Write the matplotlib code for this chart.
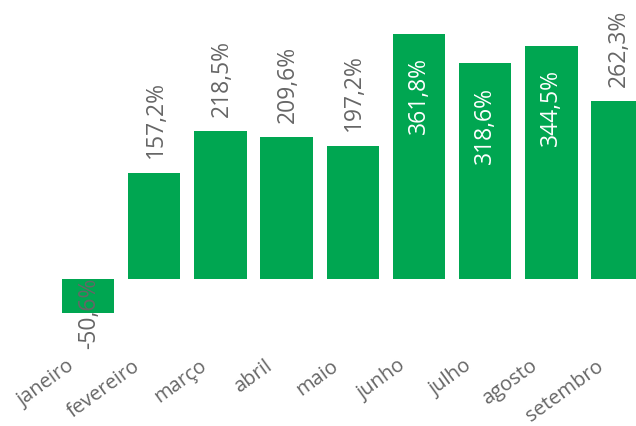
import matplotlib
matplotlib.use("Agg")
import matplotlib.pyplot as plt
from matplotlib.transforms import ScaledTranslation

meses = ["janeiro", "fevereiro", "março", "abril", "maio",
         "junho", "julho", "agosto", "setembro"]
valores = [-50.6, 157.2, 218.5, 209.6, 197.2, 361.8, 318.6, 344.5, 262.3]
rotulos = ["-50,6%", "157,2%", "218,5%", "209,6%", "197,2%",
           "361,8%", "318,6%", "344,5%", "262,3%"]
dentro = [False, False, False, False, False, True, True, True, False]

verde = "#00A651"
cinza = "#666666"

plt.rcParams["font.family"] = ["Open Sans", "DejaVu Sans"]

fig = plt.figure(figsize=(6.36, 4.27), dpi=100)
ax = fig.add_axes([0, 82 / 427, 1, 345 / 427])

x = list(range(len(meses)))
ax.bar(x, valores, width=0.79, color=verde)

for i, (v, txt, inn) in enumerate(zip(valores, rotulos, dentro)):
    if v < 0:
        ax.annotate(txt, (i, 0), xytext=(1, 2), textcoords="offset points",
                    rotation=90, ha="center", va="top", color=cinza, fontsize=16.5)
    elif inn:
        ax.annotate(txt, (i, v), xytext=(0, -16), textcoords="offset points",
                    rotation=90, ha="center", va="top", color="white", fontsize=16.5)
    else:
        ax.annotate(txt, (i, v), xytext=(1, 11), textcoords="offset points",
                    rotation=90, ha="center", va="bottom", color=cinza, fontsize=16.5)

ax.set_xlim(-1.329, 8.278)
ax.set_ylim(-96, 413.6)
ax.set_yticks([])
ax.set_xticks(x, meses, rotation=36, ha="right", va="top",
              rotation_mode="anchor", color=cinza, fontsize=14.5)
ax.tick_params(axis="x", length=0, pad=8)
desloc = ScaledTranslation(-22 / 100, 0, fig.dpi_scale_trans)
for lab in ax.get_xticklabels():
    lab.set_transform(lab.get_transform() + desloc)

for s in ax.spines.values():
    s.set_visible(False)

fig.savefig("out.png", dpi=100)
